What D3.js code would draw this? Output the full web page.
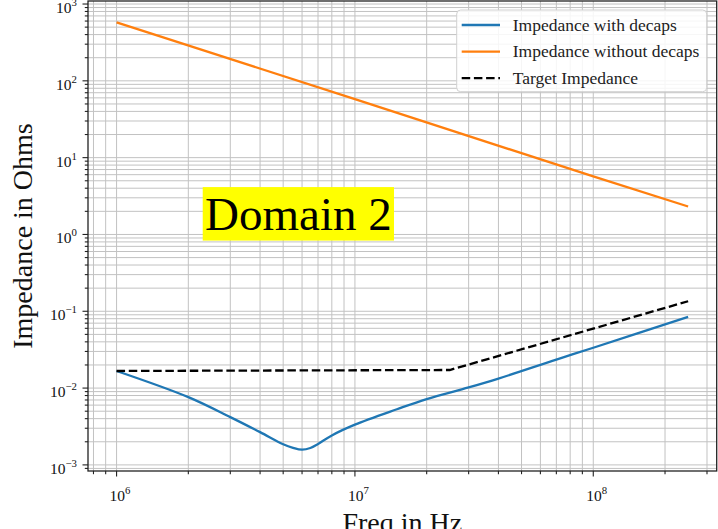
<!DOCTYPE html>
<html>
<head>
<meta charset="utf-8">
<script src="https://cdn.jsdelivr.net/npm/d3@7"></script>
<style>
  html, body { margin: 0; padding: 0; background: #fff; }
  svg { display: block; font-family: "Liberation Serif", "Times New Roman", serif; }
</style>
</head>
<body>
<svg id="chart" width="718" height="529"></svg>
<script>
// Impedance of the power distribution network, domain 2
const freqWith = [1e6, 2e6, 3e6, 4e6, 5e6, 5.5e6, 6e6, 6.5e6, 7e6, 8e6, 1e7, 1.5e7, 2e7, 3e7, 4e7, 7e7, 1e8, 2.5e8];
const zWith    = [0.0167, 0.00763, 0.00419, 0.00267, 0.00186, 0.00167, 0.00158, 0.00166, 0.00187, 0.00242, 0.00334, 0.0053, 0.0072, 0.0102, 0.0133, 0.0235, 0.0335, 0.0843];

const freqWithout = [1e6, 1e7, 1e8, 2.5e8];
const zWithout    = [577, 57.7, 5.7, 2.31];

const freqTarget = [1e6, 2.5e7, 2.5e8];
const zTarget    = [0.0167, 0.0172, 0.135];

const seriesNames = ["Impedance with decaps", "Impedance without decaps", "Target Impedance"];
const seriesColors = ["#1f77b4", "#ff7f0e", "#000000"];

const annotation = { text: "Domain 2", f: 2.35e6, z: 1.14 };
const xLabel = "Freq in Hz";
const yLabel = "Impedance in Ohms";

const svg = d3.select("#chart");
const margin = { left: 88, right: 1.3, top: 1, bottom: 58 };
const W = 718, H = 529;

// Log-space extents padded by 5% on each side
function paddedLog(vals) {
  const lo = Math.log10(d3.min(vals)), hi = Math.log10(d3.max(vals));
  const p = (hi - lo) * 0.05;
  return [Math.pow(10, lo - p), Math.pow(10, hi + p)];
}
const allF = freqWith.concat(freqWithout, freqTarget);
const allZ = zWith.concat(zWithout, zTarget);

const x = d3.scaleLog().domain(paddedLog(allF)).range([margin.left, W - margin.right]);
const y = d3.scaleLog().domain(paddedLog(allZ)).range([H - margin.bottom, margin.top]);

const [x0, x1] = x.range();
const [y0, y1] = y.range();

// Major and minor tick values for a log domain
function logTicks(domain) {
  const major = [], minor = [];
  const a = Math.floor(Math.log10(domain[0])), b = Math.ceil(Math.log10(domain[1]));
  for (let e = a; e <= b; e++) {
    for (let m = 1; m <= 9; m++) {
      const v = m * Math.pow(10, e);
      if (v < domain[0] * 0.9999 || v > domain[1] * 1.0001) continue;
      (m === 1 ? major : minor).push(v);
    }
  }
  return { major, minor };
}
const xt = logTicks(x.domain());
const yt = logTicks(y.domain());

// Grid
const grid = svg.append("g").attr("stroke", "#c2c2c2").attr("stroke-width", 1);
xt.major.concat(xt.minor).forEach(v => {
  grid.append("line").attr("x1", x(v)).attr("x2", x(v)).attr("y1", y1).attr("y2", y0);
});
yt.major.concat(yt.minor).forEach(v => {
  grid.append("line").attr("x1", x0).attr("x2", x1).attr("y1", y(v)).attr("y2", y(v));
});

// Series
const zip = (a, b) => a.map((v, i) => [v, b[i]]);
const smooth = d3.line().x(d => x(d[0])).y(d => y(d[1])).curve(d3.curveCatmullRom.alpha(0.5));
const straight = d3.line().x(d => x(d[0])).y(d => y(d[1]));

svg.append("path").datum(zip(freqWith, zWith))
  .attr("d", smooth).attr("fill", "none")
  .attr("stroke", seriesColors[0]).attr("stroke-width", 2.3);

svg.append("path").datum(zip(freqWithout, zWithout))
  .attr("d", straight)
  .attr("fill", "none").attr("stroke", seriesColors[1]).attr("stroke-width", 2.3);

svg.append("path").datum(zip(freqTarget, zTarget))
  .attr("d", straight)
  .attr("fill", "none").attr("stroke", seriesColors[2]).attr("stroke-width", 2.3)
  .attr("stroke-dasharray", "8.5,3.7");

// Spines
svg.append("rect").attr("x", x0).attr("y", y1).attr("width", x1 - x0).attr("height", y0 - y1)
  .attr("fill", "none").attr("stroke", "#222").attr("stroke-width", 1.3);

// Tick marks
const ax = svg.append("g").attr("stroke", "#222").attr("stroke-width", 1.1);
xt.major.forEach(v => ax.append("line").attr("x1", x(v)).attr("x2", x(v)).attr("y1", y0).attr("y2", y0 + 5.5));
xt.minor.forEach(v => ax.append("line").attr("x1", x(v)).attr("x2", x(v)).attr("y1", y0).attr("y2", y0 + 3.2));
yt.major.forEach(v => ax.append("line").attr("x1", x0).attr("x2", x0 - 5.5).attr("y1", y(v)).attr("y2", y(v)));
yt.minor.forEach(v => ax.append("line").attr("x1", x0).attr("x2", x0 - 3.2).attr("y1", y(v)).attr("y2", y(v)));

// Power-of-ten tick labels
function powLabel(g, v, px, py, anchor) {
  const e = Math.round(Math.log10(v));
  const t = g.append("text").attr("x", px).attr("y", py).attr("text-anchor", anchor)
    .attr("font-size", 15.5).attr("fill", "#111");
  t.append("tspan").text("10");
  t.append("tspan").attr("dy", -7).attr("font-size", 10.8).text(e < 0 ? "\u2212" + (-e) : String(e));
}
const labels = svg.append("g");
xt.major.forEach(v => powLabel(labels, v, x(v) + 3.5, y0 + 30, "middle"));
yt.major.forEach(v => powLabel(labels, v, x0 - 11, y(v) + 9, "end"));

// Axis titles
svg.append("text").attr("x", (x0 + x1) / 2).attr("y", H + 2.5).attr("text-anchor", "middle")
  .attr("font-size", 28).attr("fill", "#111").text(xLabel);
svg.append("text").attr("transform", `translate(32,${(y0 + y1) / 2}) rotate(-90)`)
  .attr("text-anchor", "middle").attr("font-size", 28).attr("fill", "#111").text(yLabel);

// Annotation with yellow box
const ann = svg.append("g");
const annBg = ann.append("rect").attr("fill", "#ffff00");
const annText = ann.append("text").attr("x", x(annotation.f)).attr("y", y(annotation.z))
  .attr("font-size", 47).attr("fill", "#000").text(annotation.text);
const bb = annText.node().getBBox();
annBg.attr("x", bb.x - 2.3).attr("y", bb.y - 1).attr("width", bb.width + 4.6).attr("height", bb.height + 1.5);

// Legend
const leg = svg.append("g").attr("transform", "translate(456.7,10)");
leg.append("rect").attr("width", 250).attr("height", 81.7).attr("rx", 4)
  .attr("fill", "#fff").attr("fill-opacity", 0.85).attr("stroke", "#d0d0d0").attr("stroke-width", 1);
seriesNames.forEach((name, i) => {
  const cy = 15 + i * 26.6;
  leg.append("line").attr("x1", 5).attr("x2", 43.3).attr("y1", cy).attr("y2", cy)
    .attr("stroke", seriesColors[i]).attr("stroke-width", 2.3)
    .attr("stroke-dasharray", i === 2 ? "8.5,3.7" : null);
  leg.append("text").attr("x", 56).attr("y", cy + 5.8).attr("font-size", 17.5)
    .attr("fill", "#222").text(name);
});
</script>
</body>
</html>
